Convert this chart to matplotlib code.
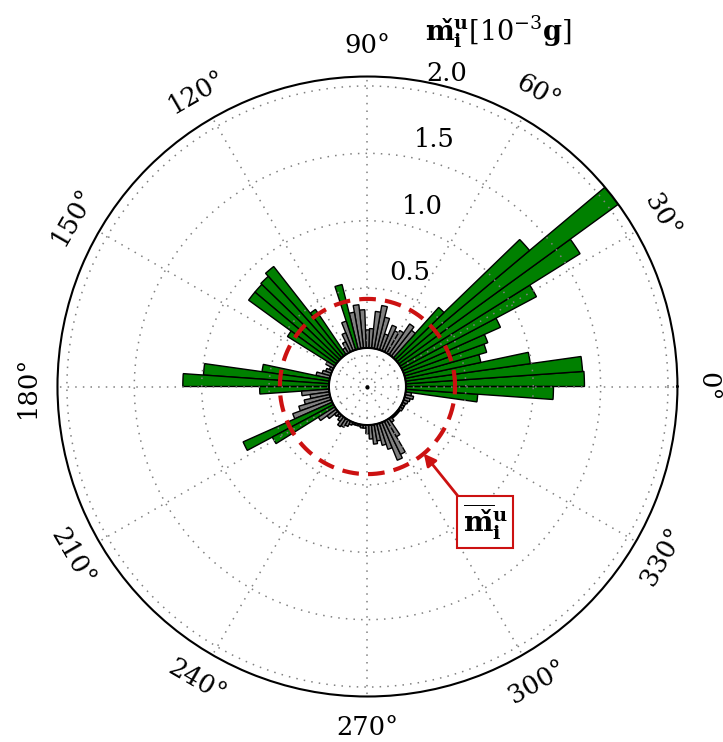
import numpy as np
import matplotlib
matplotlib.use('Agg')
import matplotlib.pyplot as plt

plt.rcParams['font.family'] = 'DejaVu Serif'
plt.rcParams['mathtext.fontset'] = 'dejavuserif'

# bar tips per 4 degree bin (0-4, 4-8, ... 356-360), in 1e-3 g
bin_width_deg = 4
mass_values = [1.38, 1.37, 0.99, 0.63, 0.69, 0.72, 0.85, 1.19, 1.63, 2.10,
               1.34, 0.56, 0.30, 0.33, 0.25, 0.23, 0.26, 0.18, 0.30, 0.38,
               0.33, 0.20, 0.19, 0.34, 0.38, 0.33, 0.55, 0.28, 0.20, 0.14,
               0.10, 0.46, 0.90, 0.87, 0.86, 0.86, 0.47, 0.12, 0.08, 0.10,
               0.12, 0.16, 0.56, 0.99, 1.14, 0.57, 0.26, 0.20, 0.25, 0.30,
               0.36, 0.78, 0.57, 0.20, 0.14, 0.09, 0.08, 0.10, 0.13, 0.12,
               0.10, 0.08, 0.07, 0.07, 0.07, 0.08, 0.08, 0.12, 0.16, 0.20,
               0.18, 0.22, 0.26, 0.36, 0.33, 0.20, 0.09, 0.07, 0.07, 0.07,
               0.07, 0.08, 0.08, 0.08, 0.09, 0.10, 0.12, 0.10, 0.59, 1.15]
mean_value = 0.42
bar_base = 0.056

r_min, r_max = -0.23, 2.07
r_ticks = [0, 0.5, 1.0, 1.5, 2.0]
r_tick_labels = ['', '0.5', '1.0', '1.5', '2.0']
angle_ticks = list(range(0, 360, 30))

green = '#008000'
grey = '#808080'
red = '#cc1111'

fig = plt.figure(figsize=(7.23, 7.42), dpi=100)
ax = fig.add_axes([0.0795, 0.0613, 0.8575, 0.8356], projection='polar')

theta = np.radians(np.arange(len(mass_values)) * bin_width_deg)
heights = np.array(mass_values) - bar_base
colors = [green if v > mean_value else grey for v in mass_values]
ax.bar(theta, heights, width=np.radians(bin_width_deg), bottom=bar_base,
       align='edge', color=colors, edgecolor='black', linewidth=1.0, zorder=1)

# inner hole outline and mean circle
circ = np.linspace(0, 2 * np.pi, 361)
ax.plot(circ, np.full_like(circ, bar_base), color='black', lw=1.5, zorder=3)
ax.plot(circ, np.full_like(circ, mean_value), color=red, lw=3,
        linestyle=(0, (4, 2.2)), zorder=4)
ax.plot([0], [r_min], 'k.', ms=4, zorder=5)

ax.set_ylim(r_min, r_max)
ax.set_yticks(r_ticks)
ax.set_yticklabels([''] * len(r_ticks))
ax.set_thetagrids(angle_ticks, [f'{a}°' for a in angle_ticks], fontsize=18.5)
ax.tick_params(axis='x', labelrotation=('auto', 0), pad=11.5)
ax.set_axisbelow(False)
ax.grid(True, color='0.5', linestyle=(0, (1, 4)), linewidth=1.1)
ax.spines['polar'].set_linewidth(1.5)

for r, lab in zip(r_ticks, r_tick_labels):
    if lab:
        ax.annotate(lab, xy=(np.radians(79.5), r), xytext=(17.5, 12.5),
                    textcoords='offset points', ha='center', va='center',
                    fontsize=18.5, zorder=6)

# m with a combining caron
m_check = '\\mathbf{m\u030c}'
fig.text(0.69, 0.958, rf'${m_check}_{{\mathbf{{i}}}}^{{\mathbf{{u}}}}[10^{{-3}}\mathbf{{g}}]$',
         ha='center', va='center', fontsize=19.5)

ax.annotate(rf'$\overline{{{m_check}}}_{{\mathbf{{i}}}}^{{\mathbf{{u}}}}$',
            xy=(np.radians(310), mean_value), xycoords='data',
            xytext=(0.671, 0.2965), textcoords='figure fraction',
            ha='center', va='center', fontsize=20,
            bbox=dict(boxstyle='square,pad=0.2', fc='white', ec=red, lw=1.5),
            arrowprops=dict(arrowstyle='-|>', color=red, lw=2, relpos=(0, 1),
                            mutation_scale=18, shrinkA=0, shrinkB=0),
            zorder=7)

fig.savefig('out.png', dpi=100, facecolor='white')
